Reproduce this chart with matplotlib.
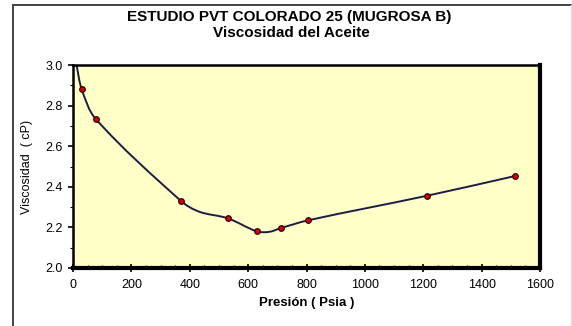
import numpy as np
import matplotlib.pyplot as plt
from matplotlib.lines import Line2D
from matplotlib.path import Path
from matplotlib.patches import PathPatch
from matplotlib.ticker import MultipleLocator

# Measured points (pressure in psia, viscosity in cP)
presion = [30, 78, 370, 530, 629, 713, 806, 1213, 1514]
viscosidad = [2.88, 2.734, 2.33, 2.245, 2.181, 2.197, 2.235, 2.356, 2.453]

# Fitted viscosity curve
presion_curva = [12, 30, 78, 370, 433, 530, 629, 672, 713, 806, 1213, 1514]
viscosidad_curva = [3.0, 2.88, 2.734, 2.33, 2.277, 2.245, 2.181, 2.178,
                    2.197, 2.235, 2.356, 2.453]

plt.rcParams['font.family'] = ['Liberation Sans', 'DejaVu Sans']

W, H = 572, 326
fig = plt.figure(figsize=(W / 100, H / 100), dpi=100)
fig.patch.set_facecolor('white')

# outer chart frame
fig.add_artist(Line2D([13 / W, 13 / W], [0, 1 - 5 / H], transform=fig.transFigure,
                      color='#444444', linewidth=1.4))
fig.add_artist(Line2D([13 / W, 571 / W], [1 - 5 / H, 1 - 5 / H],
                      transform=fig.transFigure, color='#444444', linewidth=1.4))
fig.add_artist(Line2D([571 / W, 571 / W], [0, 1 - 5 / H], transform=fig.transFigure,
                      color='#dddddd', linewidth=1))

left, right, top, bottom = 73, 540, 65, 268
ax = fig.add_axes([left / W, 1 - bottom / H, (right - left) / W, (bottom - top) / H])
ax.set_facecolor('#ffffc8')


def smooth_path(xs, ys, sx, sy):
    # cubic bezier through the vertices, tangents from neighbours (smoothed line)
    pts = np.column_stack([np.array(xs) * sx, np.array(ys) * sy]).astype(float)
    n = len(pts)
    tang = []
    for i in range(n):
        a = pts[max(i - 1, 0)]
        b = pts[min(i + 1, n - 1)]
        d = b - a
        tang.append(d / np.hypot(*d))
    verts = [pts[0]]
    codes = [Path.MOVETO]
    for i in range(n - 1):
        seg = np.hypot(*(pts[i + 1] - pts[i])) / 3
        verts += [pts[i] + tang[i] * seg, pts[i + 1] - tang[i + 1] * seg, pts[i + 1]]
        codes += [Path.CURVE4] * 3
    verts = np.array(verts) / [sx, sy]
    return Path(verts, codes)


ax.add_patch(PathPatch(smooth_path(presion_curva, viscosidad_curva, 467 / 1600, 203),
                       fill=False, edgecolor='#1c1c48', linewidth=1.4, zorder=2))
ax.plot(presion, viscosidad, linestyle='none', marker='o', markersize=4,
        markerfacecolor='#e00000', markeredgecolor='#300000',
        markeredgewidth=0.9, zorder=3)

ax.set_xlim(0, 1600)
ax.set_ylim(2.0, 3.0)
ax.xaxis.set_major_locator(MultipleLocator(200))
ax.xaxis.set_minor_locator(MultipleLocator(50))
ax.yaxis.set_major_locator(MultipleLocator(0.2))
ax.yaxis.set_minor_locator(MultipleLocator(0.1))
ax.yaxis.set_major_formatter(plt.FuncFormatter(lambda v, p: f'{v:.1f}'))

ax.tick_params(axis='both', which='major', length=3.5, width=1.2, labelsize=9,
               direction='out', pad=4)
ax.tick_params(axis='x', which='major', direction='inout', length=6, pad=5)
ax.tick_params(axis='x', which='minor', direction='in', length=2.5, width=0.8)
ax.tick_params(axis='y', which='minor', direction='out', length=2, width=0.8)

for side in ['left', 'top']:
    ax.spines[side].set_linewidth(1.8)
for side in ['right', 'bottom']:
    ax.spines[side].set_linewidth(3)

ax.set_xlabel('Presión ( Psia )', fontsize=9.5, fontweight='bold', labelpad=4)
ax.set_ylabel('Viscosidad  ( cP)', fontsize=9, labelpad=9)

fig.text(289 / W, 1 - 17 / H, 'ESTUDIO PVT COLORADO 25 (MUGROSA B)',
         ha='center', va='center', fontsize=11, fontweight='bold')
fig.text(291 / W, 1 - 33 / H, 'Viscosidad del Aceite',
         ha='center', va='center', fontsize=11, fontweight='bold')

fig.savefig('out.png', dpi=100)
